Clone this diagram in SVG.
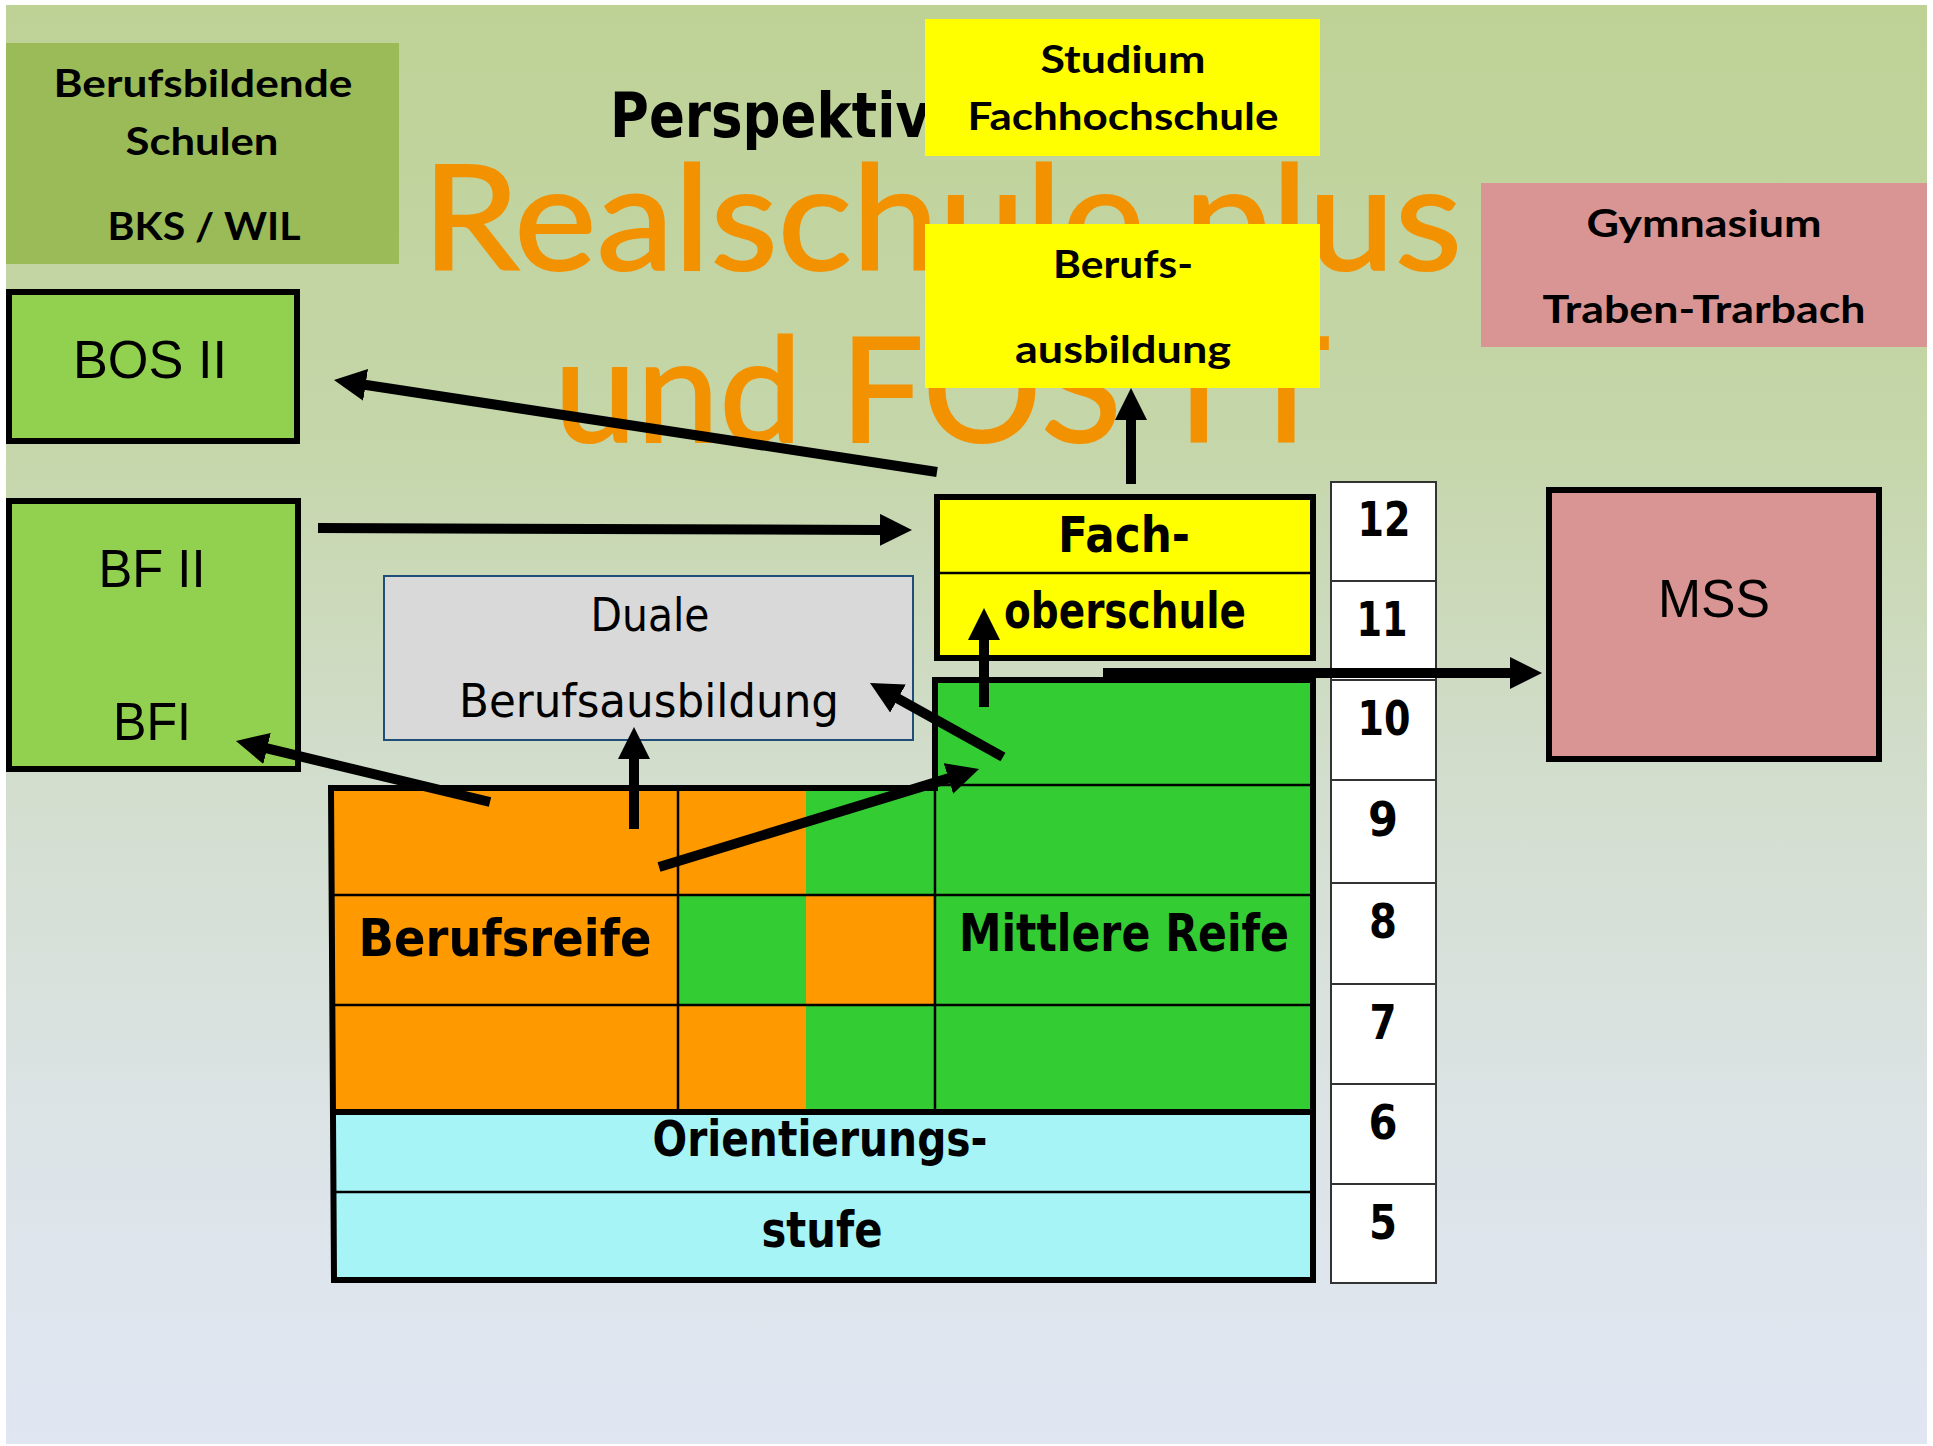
<svg xmlns="http://www.w3.org/2000/svg" width="1933" height="1446" viewBox="0 0 1933 1446">
<defs>
<linearGradient id="bg" x1="0" y1="0" x2="0" y2="1">
<stop offset="0" stop-color="#BED296"/>
<stop offset="0.3" stop-color="#C5D6A9"/>
<stop offset="0.55" stop-color="#D3DECF"/>
<stop offset="0.8" stop-color="#DDE4E8"/>
<stop offset="1" stop-color="#E0E6F2"/>
</linearGradient>
<marker id="ah" markerUnits="userSpaceOnUse" markerWidth="32" markerHeight="32" refX="1" refY="16" orient="auto" viewBox="0 0 32 32"><path d="M0,0 L32,16 L0,32 z" fill="#000"/></marker>
<style>
.cal{font-family:"Lato","Open Sans","Liberation Sans",sans-serif;font-weight:bold;fill:#000;text-anchor:middle}
.big{font-family:"Lato","Open Sans","Liberation Sans",sans-serif;font-weight:normal;fill:#F39200;font-size:145px;stroke:#F39200;stroke-width:2}
.comic{font-family:"DejaVu Sans","Liberation Sans",sans-serif;fill:#000;text-anchor:middle}
.cb{font-weight:bold}
.ar{font-family:"Liberation Sans",Arial,sans-serif;fill:#000;text-anchor:middle;font-size:53px}
.thick{stroke:#000;stroke-width:6}
.thin{stroke:#000;stroke-width:2.5}
.grade{fill:#fff;stroke:#333;stroke-width:2}
.num{font-family:"DejaVu Sans","Liberation Sans",sans-serif;font-weight:bold;font-size:48px;text-anchor:middle;fill:#000}
.arrow{stroke:#000;stroke-width:10;fill:none;marker-end:url(#ah)}
</style>
</defs>
<rect x="0" y="0" width="1933" height="1446" fill="#fff"/>
<rect x="6" y="5" width="1921" height="1439" fill="url(#bg)"/>

<g id="title">
<text class="big" x="422" y="270" textLength="1040" lengthAdjust="spacingAndGlyphs">Realschule plus</text>
<text class="big" x="554" y="442" textLength="776" lengthAdjust="spacingAndGlyphs">und FOS TT</text>
<text class="comic cb" x="610" y="137" style="text-anchor:start;font-size:62px" textLength="320" lengthAdjust="spacingAndGlyphs">Perspektiv</text>
</g>

<g id="bbs">
<rect x="6" y="43" width="393" height="221" fill="#9BBB59"/>
<text class="cal" x="203" y="97" font-size="38" textLength="299" lengthAdjust="spacingAndGlyphs">Berufsbildende</text>
<text class="cal" x="202" y="155" font-size="38" textLength="153" lengthAdjust="spacingAndGlyphs">Schulen</text>
<text class="cal" x="204" y="240" font-size="38" textLength="193" lengthAdjust="spacingAndGlyphs">BKS / WIL</text>
</g>

<g id="studium">
<rect x="925" y="19" width="395" height="137" fill="#FFFF00"/>
<text class="cal" x="1123" y="73" font-size="38" textLength="165" lengthAdjust="spacingAndGlyphs">Studium</text>
<text class="cal" x="1123" y="130" font-size="38" textLength="311" lengthAdjust="spacingAndGlyphs">Fachhochschule</text>
</g>

<g id="berufsausbildung">
<rect x="925" y="224" width="395" height="164" fill="#FFFF00"/>
<text class="cal" x="1123" y="278" font-size="38" textLength="140" lengthAdjust="spacingAndGlyphs">Berufs-</text>
<text class="cal" x="1123" y="363" font-size="38" textLength="216" lengthAdjust="spacingAndGlyphs">ausbildung</text>
</g>

<g id="gymnasium">
<rect x="1481" y="183" width="446" height="164" fill="#D99594"/>
<text class="cal" x="1704" y="237" font-size="38" textLength="235" lengthAdjust="spacingAndGlyphs">Gymnasium</text>
<text class="cal" x="1704" y="323" font-size="38" textLength="323" lengthAdjust="spacingAndGlyphs">Traben-Trarbach</text>
</g>

<g id="bos2">
<rect x="9" y="292" width="288" height="149" fill="#92D050" class="thick"/>
<text class="ar" x="150" y="378" textLength="154" lengthAdjust="spacingAndGlyphs">BOS II</text>
</g>

<g id="bf">
<rect x="9" y="501" width="289" height="268" fill="#92D050" class="thick"/>
<text class="ar" x="152" y="587" textLength="107" lengthAdjust="spacingAndGlyphs">BF II</text>
<text class="ar" x="152" y="740" textLength="78" lengthAdjust="spacingAndGlyphs">BFI</text>
</g>

<g id="duale">
<rect x="384" y="576" width="529" height="164" fill="#D9D9D9" stroke="#1F4E79" stroke-width="2"/>
<text class="comic" x="650" y="631" font-size="46" textLength="119" lengthAdjust="spacingAndGlyphs">Duale</text>
<text class="comic" x="649" y="717" font-size="46" textLength="380" lengthAdjust="spacingAndGlyphs">Berufsausbildung</text>
</g>

<g id="fos">
<rect x="937" y="497" width="376" height="161" fill="#FFFF00" class="thick"/>
<line x1="937" y1="573" x2="1313" y2="573" class="thin"/>
<text class="comic cb" x="1124" y="552" font-size="50" textLength="132" lengthAdjust="spacingAndGlyphs">Fach-</text>
<text class="comic cb" x="1125" y="628" font-size="50" textLength="242" lengthAdjust="spacingAndGlyphs">oberschule</text>
</g>

<g id="realschule">
<rect x="331" y="785" width="347" height="327" fill="#FF9900"/>
<rect x="678" y="785" width="128" height="110" fill="#FF9900"/>
<rect x="806" y="785" width="127" height="110" fill="#33CC33"/>
<rect x="678" y="895" width="128" height="110" fill="#33CC33"/>
<rect x="806" y="895" width="127" height="110" fill="#FF9900"/>
<rect x="678" y="1005" width="128" height="107" fill="#FF9900"/>
<rect x="806" y="1005" width="127" height="107" fill="#33CC33"/>
<rect x="933" y="677" width="381" height="435" fill="#33CC33"/>
<rect x="331" y="1112" width="983" height="171" fill="#A6F4F5"/>
<line x1="933" y1="785" x2="1314" y2="785" class="thin"/>
<line x1="331" y1="895" x2="1314" y2="895" class="thin"/>
<line x1="331" y1="1005" x2="1314" y2="1005" class="thin"/>
<line x1="331" y1="1192" x2="1314" y2="1192" class="thin"/>
<line x1="678" y1="785" x2="678" y2="1112" class="thin"/>
<line x1="935" y1="785" x2="935" y2="1112" class="thin"/>
<path d="M331,788 L935,788 L935,680 L1313,680 L1313,1280 L334,1280 Z" fill="none" class="thick"/>
<line x1="331" y1="1112" x2="1314" y2="1112" class="thick"/>
<text class="comic cb" x="505" y="956" font-size="52" textLength="293" lengthAdjust="spacingAndGlyphs">Berufsreife</text>
<text class="comic cb" x="1124" y="951" font-size="52" textLength="330" lengthAdjust="spacingAndGlyphs">Mittlere Reife</text>
<text class="comic cb" x="820" y="1156" font-size="50" textLength="335" lengthAdjust="spacingAndGlyphs">Orientierungs-</text>
<text class="comic cb" x="822" y="1247" font-size="50" textLength="121" lengthAdjust="spacingAndGlyphs">stufe</text>
</g>

<g id="grades">
<rect class="grade" x="1331" y="482" width="105" height="99"/>
<rect class="grade" x="1331" y="581" width="105" height="99"/>
<rect class="grade" x="1331" y="680" width="105" height="100"/>
<rect class="grade" x="1331" y="780" width="105" height="103"/>
<rect class="grade" x="1331" y="883" width="105" height="101"/>
<rect class="grade" x="1331" y="984" width="105" height="100"/>
<rect class="grade" x="1331" y="1084" width="105" height="100"/>
<rect class="grade" x="1331" y="1184" width="105" height="99"/>
<text class="num" x="1384" y="536" textLength="53" lengthAdjust="spacingAndGlyphs">12</text>
<text class="num" x="1382" y="636" textLength="51" lengthAdjust="spacingAndGlyphs">11</text>
<text class="num" x="1384" y="735" textLength="53" lengthAdjust="spacingAndGlyphs">10</text>
<text class="num" x="1383" y="836" textLength="30" lengthAdjust="spacingAndGlyphs">9</text>
<text class="num" x="1383" y="938" textLength="28" lengthAdjust="spacingAndGlyphs">8</text>
<text class="num" x="1383" y="1039" textLength="27" lengthAdjust="spacingAndGlyphs">7</text>
<text class="num" x="1383" y="1139" textLength="29" lengthAdjust="spacingAndGlyphs">6</text>
<text class="num" x="1383" y="1239" textLength="28" lengthAdjust="spacingAndGlyphs">5</text>
</g>

<g id="mss">
<rect x="1549" y="490" width="330" height="269" fill="#D99594" class="thick"/>
<text class="ar" x="1714" y="617" textLength="112" lengthAdjust="spacingAndGlyphs">MSS</text>
</g>

<g id="connectors">
<line class="arrow" x1="937" y1="472" x2="364.6" y2="384.7"/>
<line class="arrow" x1="318" y1="528" x2="881" y2="529.9"/>
<line class="arrow" x1="1131" y1="484" x2="1131" y2="419"/>
<line class="arrow" x1="984" y1="707" x2="984" y2="639"/>
<line class="arrow" x1="1103" y1="673" x2="1511" y2="673"/>
<line class="arrow" x1="1003" y1="757" x2="897.1" y2="698.1"/>
<line class="arrow" x1="490" y1="802" x2="266.1" y2="748.2"/>
<line class="arrow" x1="634" y1="829" x2="634" y2="758"/>
<line class="arrow" x1="659" y1="867" x2="949.4" y2="778.1"/>
</g>
</svg>
